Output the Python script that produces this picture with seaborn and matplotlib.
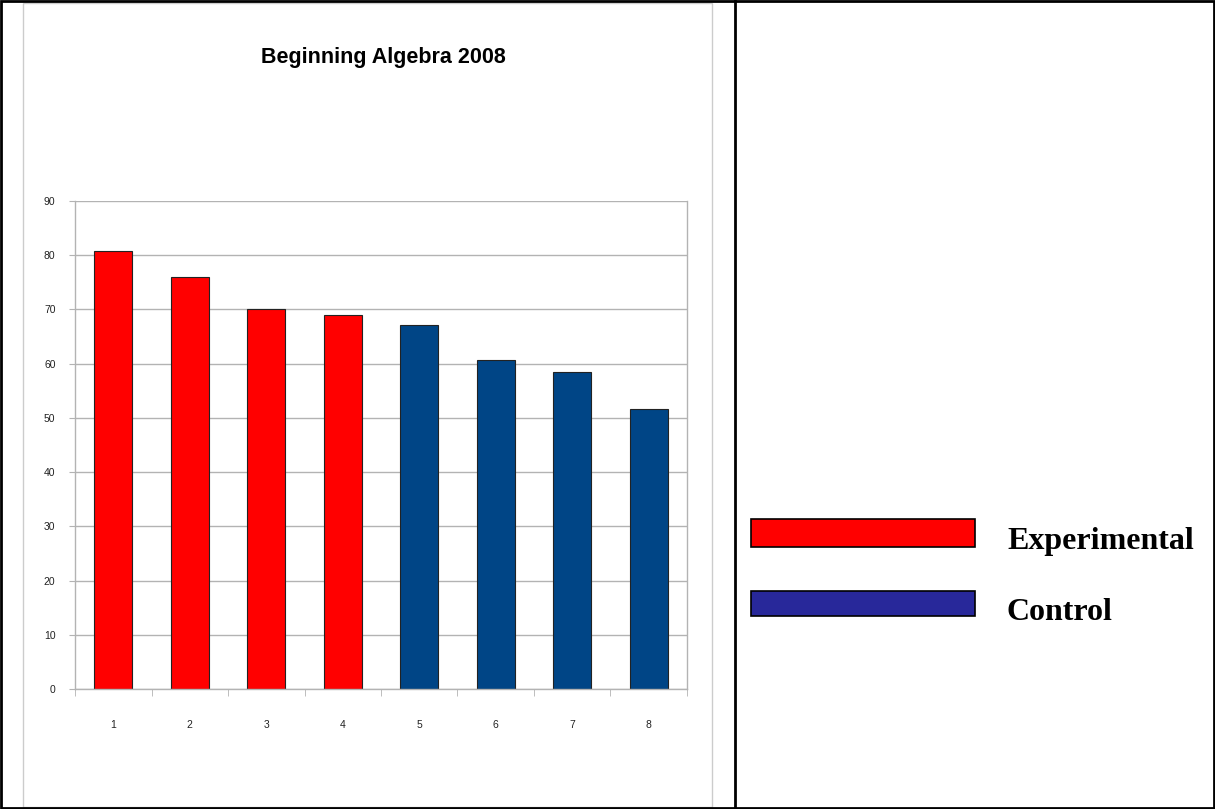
import matplotlib
matplotlib.use('Agg')
import matplotlib.pyplot as plt
from matplotlib.patches import Rectangle
from matplotlib.lines import Line2D
import seaborn as sns
import pandas as pd

sns.set_style("white")
sans = ['Liberation Sans', 'DejaVu Sans']
serif = ['Liberation Serif', 'DejaVu Serif']

# data
groups = ['1', '2', '3', '4', '5', '6', '7', '8']
scores = [80.8, 76.0, 70.1, 69.0, 67.2, 60.7, 58.5, 51.7]
kind = ['Experimental'] * 4 + ['Control'] * 4
bar_colors = {'Experimental': '#ff0000', 'Control': '#004586'}
legend_labels = ['Experimental', 'Control']
legend_colors = ['#ff0000', '#28289a']

df = pd.DataFrame({'group': groups, 'score': scores, 'kind': kind})

fig = plt.figure(figsize=(12.15, 8.09), dpi=100)
W, H = 1215, 809

# page frames
fig.add_artist(Rectangle((23 / W, 2 / H), (712 - 23) / W, (806 - 2) / H,
                         transform=fig.transFigure, fill=False, ec='#cccccc', lw=1))
fig.add_artist(Rectangle((1 / W, 1 / H), (W - 2) / W, (H - 2) / H,
                         transform=fig.transFigure, fill=False, ec='black', lw=2))
fig.add_artist(Line2D([735 / W, 735 / W], [0, 1], transform=fig.transFigure,
                      color='black', lw=2))

ax = fig.add_axes([75 / W, 1 - 689 / H, (687 - 75) / W, (689 - 201) / H])
sns.barplot(data=df, x='group', y='score', hue='kind', palette=bar_colors,
            dodge=False, width=0.5, saturation=1, edgecolor='#222222',
            linewidth=0.8, legend=False, ax=ax)

ax.set_ylim(0, 90)
ax.set_xlim(-0.5, 7.5)
ax.set_yticks(range(0, 91, 10))
ax.yaxis.grid(True, color='#b3b3b3', lw=1)
ax.set_axisbelow(True)
for s in ax.spines.values():
    s.set_color('#b3b3b3')
    s.set_linewidth(1)
ax.spines['top'].set_visible(False)
ax.set_xlabel('')
ax.set_ylabel('')
ax.set_xticks(range(8))
ax.set_xticklabels(groups)
ax.set_xticks([i - 0.5 for i in range(9)], minor=True)
ax.tick_params(axis='x', which='major', length=0, pad=22, labelsize=7.5)
ax.tick_params(axis='x', which='minor', length=5, color='#b3b3b3', bottom=True)
ax.tick_params(axis='y', length=4, color='#b3b3b3', pad=10, labelsize=7.5, left=True)
for lab in ax.get_xticklabels() + ax.get_yticklabels():
    lab.set_family(sans)
    lab.set_color('#222222')

fig.text(383 / W, 1 - 57 / H, 'Beginning Algebra 2008', ha='center', va='center',
         fontsize=15.5, fontweight='bold', family=sans, color='black')

# side legend
rows = [(519, 547), (591, 616)]
for (top, bot), lab, col in zip(rows, legend_labels, legend_colors):
    fig.add_artist(Rectangle((751 / W, 1 - bot / H), (975 - 751) / W, (bot - top) / H,
                             transform=fig.transFigure, fc=col, ec='black', lw=1.2))
    fig.text(1007 / W, 1 - (top + bot) / 2 / H - 9 / H, lab, ha='left', va='center',
             fontsize=23, fontweight='bold', family=serif, color='black')

fig.savefig('out.png', dpi=100)
